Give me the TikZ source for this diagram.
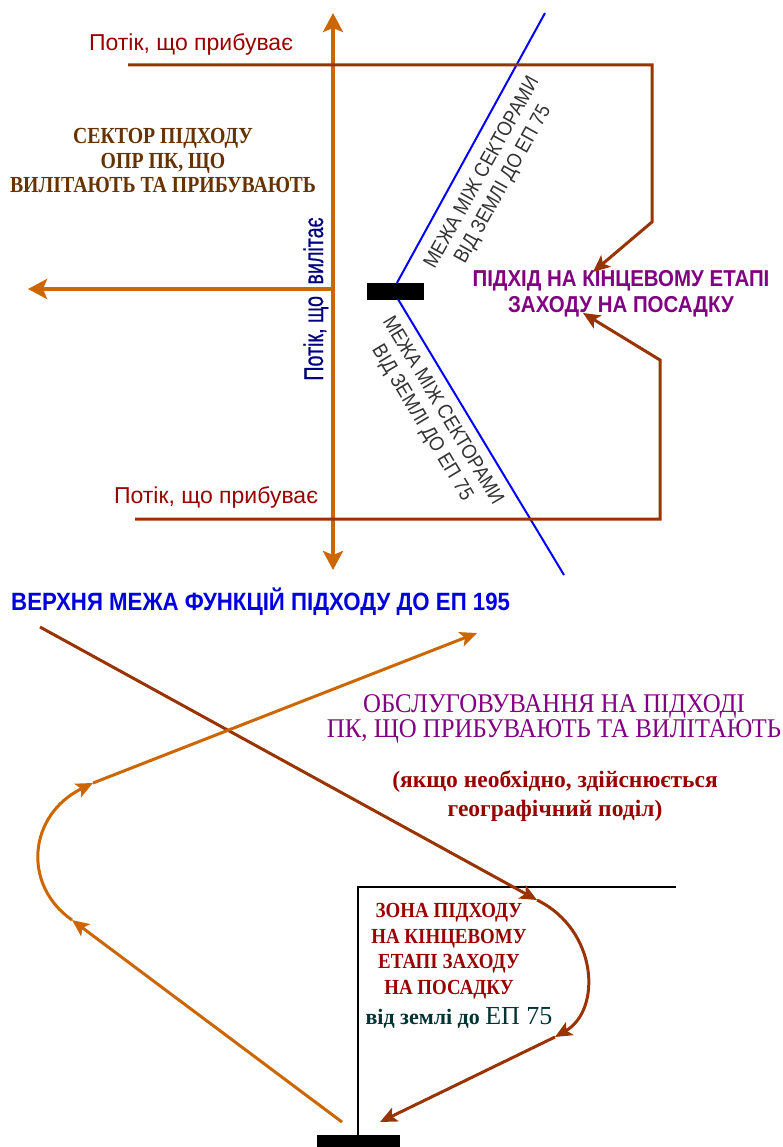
\documentclass[tikz,border=0pt]{standalone}
\usepackage{fontspec}
\usetikzlibrary{arrows.meta}
\setmainfont{Liberation Serif}
\newfontfamily\sansR{Liberation Sans}
\newfontfamily\sansN[FakeStretch=0.89]{Liberation Sans}
\newfontfamily\sansV[FakeStretch=0.73,FakeBold=0.6]{Liberation Sans}
\newfontfamily\serifN[FakeStretch=0.88]{Liberation Serif}
\newfontfamily\serifS[FakeStretch=0.86]{Liberation Serif}
\newfontfamily\serifP[FakeStretch=0.92]{Liberation Serif}

\definecolor{flowor}{RGB}{204,102,0}
\definecolor{flowbr}{RGB}{153,51,0}
\definecolor{txtred}{RGB}{153,0,0}
\definecolor{txtbrown}{RGB}{102,51,0}
\definecolor{txtpurple}{RGB}{128,0,128}
\definecolor{txtnavy}{RGB}{0,0,128}
\definecolor{txtblue}{RGB}{0,0,220}
\definecolor{txtteal}{RGB}{0,51,51}
\definecolor{txtgray}{RGB}{51,51,51}

\tikzset{
  bigtip/.style={-{Stealth[length=19pt,width=20pt,inset=4pt]}},
  browntip/.style={-{Stealth[length=17pt,width=15pt,inset=4pt]}},
  lowtip/.style={-{Stealth[length=17pt,width=15pt,inset=4pt]}},
  orangeflow/.style={draw=flowor,line width=4pt},
  brownflow/.style={draw=flowbr,line width=3pt},
  sectorline/.style={draw=blue,line width=2pt},
  zoneline/.style={draw=black,line width=2pt},
  runway/.style={fill=black,draw=black},
  lbl/.style={inner sep=0pt,align=center},
}

\begin{document}
\begin{tikzpicture}[x=1pt,y=-1pt]
\useasboundingbox[fill=white] (0,0) rectangle (783,1147);

% ---------- upper scheme: sectors around the aerodrome ----------
\coordinate (axisTop) at (333,13);
\coordinate (axisBot) at (333,570);
\coordinate (axisMid) at (333,289);
\coordinate (depEnd) at (28,289);
\draw[orangeflow,bigtip] (axisMid) -- (axisTop);
\draw[orangeflow,bigtip] (axisMid) -- (axisBot);
\draw[orangeflow,line width=3.5pt,bigtip] (axisMid) -- (depEnd);

% runway
\node[runway,minimum width=56pt,minimum height=16pt,inner sep=0pt] (rwy) at (395,291) {};

% sector boundaries
\coordinate (bndTop) at (545,13);
\coordinate (bndBot) at (564,575);
\draw[sectorline] (rwy.north) ++(2,0) coordinate (rwyN) -- (bndTop);
\draw[sectorline] (rwy.south) ++(3,0) coordinate (rwyS) -- (bndBot);

% arriving flows
\coordinate (arrA0) at (128,65);
\coordinate (arrA1) at (652,65);
\coordinate (arrA2) at (652,222);
\coordinate (arrB0) at (135,519);
\coordinate (arrB1) at (660,519);
\coordinate (arrB2) at (660,360);

\node[lbl,font=\sansN\fontsize{23}{28}\selectfont,text=txtpurple] (final)
  at (621,294) {\bfseries ПІДХІД НА КІНЦЕВОМУ ЕТАПІ\\[-2pt]\bfseries ЗАХОДУ НА ПОСАДКУ};
\coordinate (finalA) at (593,272);
\coordinate (finalB) at (583,313);
\draw[brownflow,browntip] (arrA0) -- (arrA1) -- (arrA2) -- (finalA);
\draw[brownflow,browntip] (arrB0) -- (arrB1) -- (arrB2) -- (finalB);

% labels of the upper scheme
\node[lbl,anchor=base,font=\sansR\fontsize{23}{26}\selectfont,text=txtred] (arrLblA)
  at (191,51) {Потік, що прибуває};
\node[lbl,anchor=base,font=\sansR\fontsize{23}{26}\selectfont,text=txtred] (arrLblB)
  at (216,503) {Потік, що прибуває};
\node[lbl,anchor=base,rotate=90,font=\sansV\fontsize{27}{30}\selectfont,text=txtnavy] (depLbl)
  at (323,299) {Потік, що\hspace{6pt} вилітає};
\node[lbl,font=\serifS\bfseries\fontsize{23}{24.5}\selectfont,text=txtbrown] (sector)
  at (163,161) {СЕКТОР ПІДХОДУ\\ОПР ПК, ЩО\\ВИЛІТАЮТЬ ТА ПРИБУВАЮТЬ};
\node[lbl,rotate=61,font=\sansN\fontsize{20.5}{24}\selectfont,text=txtgray] (bndLblA)
  at (493,179) {МЕЖА МІЖ СЕКТОРАМИ\\ВІД ЗЕМЛІ ДО ЕП 75};
\node[lbl,rotate=-59,font=\sansN\fontsize{20.5}{24}\selectfont,text=txtgray] (bndLblB)
  at (432,417) {МЕЖА МІЖ СЕКТОРАМИ\\ВІД ЗЕМЛІ ДО ЕП 75};

% ---------- lower scheme: vertical profile ----------
\node[lbl,anchor=base west,font=\sansN\bfseries\fontsize{25}{28}\selectfont,text=txtblue] (upper)
  at (11,610) {ВЕРХНЯ МЕЖА ФУНКЦІЙ ПІДХОДУ ДО ЕП 195};

\node[lbl,font=\serifP\fontsize{27}{25}\selectfont,text=txtpurple] (service)
  at (554,719) {ОБСЛУГОВУВАННЯ НА ПІДХОДІ\\ПК, ЩО ПРИБУВАЮТЬ ТА ВИЛІТАЮТЬ};
\node[lbl,font=\bfseries\fontsize{23.5}{29}\selectfont,text=txtred] (split)
  at (555,796) {(якщо необхідно, здійснюється\\географічний поділ)};

% final approach zone outline and runway
\coordinate (zoneTop) at (358,887);
\coordinate (zoneEnd) at (676,887);
\node[runway,minimum width=82pt,minimum height=14pt,inner sep=0pt,anchor=north] (rwy2) at (358,1135) {};
\draw[zoneline] (rwy2.north) -- (zoneTop) -- (zoneEnd);

\node[lbl,font=\serifN\bfseries\fontsize{21.5}{25.5}\selectfont,text=txtred] (zone)
  at (449,951) {ЗОНА ПІДХОДУ\\НА КІНЦЕВОМУ\\ЕТАПІ ЗАХОДУ\\НА ПОСАДКУ};
\node[lbl,anchor=base,font=\fontsize{22}{26}\selectfont,text=txtteal] (zoneAlt)
  at (459,1024) {\bfseries від землі до \mdseries\fontsize{26}{26}\selectfont ЕП 75};

% arriving traffic (brown)
\coordinate (inA) at (40,627);
\coordinate (inB) at (537,900);
\coordinate (inC) at (555,1037);
\coordinate (inD) at (380,1122);
\draw[brownflow,lowtip] (inA) -- (inB);
\draw[brownflow,lowtip] (inB) .. controls (598,930) and (602,1010) .. (inC);
\draw[brownflow,lowtip] (inC) -- (inD);

% departing traffic (orange)
\coordinate (outA) at (342,1122);
\coordinate (outB) at (72,920);
\coordinate (outC) at (93,783);
\coordinate (outD) at (477,633);
\draw[orangeflow,line width=3pt,lowtip] (outA) -- (outB);
\draw[orangeflow,line width=3pt,lowtip] (outB) .. controls (22,885) and (28,815) .. (outC);
\draw[orangeflow,line width=3pt,lowtip] (outC) -- (outD);
\end{tikzpicture}
\end{document}
